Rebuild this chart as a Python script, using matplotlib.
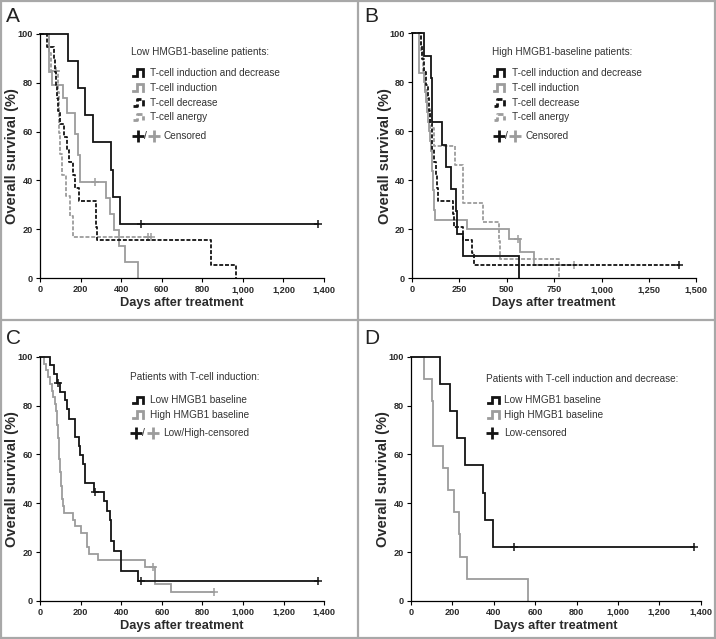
import matplotlib
matplotlib.use("Agg")
import matplotlib.pyplot as plt
from matplotlib.lines import Line2D
from matplotlib.ticker import FuncFormatter
import numpy as np

plt.rcParams['font.family'] = ['Liberation Sans', 'DejaVu Sans']

W, H = 716, 639

# ---- data (days of each drop, survival % after the drop, censored days) ----
# Low HMGB1 baseline, T-cell induction and decrease (panels A and D)
low_ind_dec_t = [138, 189, 221, 263, 350, 358, 396]
low_ind_dec_s = [88.9, 77.8, 66.7, 55.6, 44.4, 33.3, 22.2]
low_ind_dec_c = [497, 1368]

# Low HMGB1 baseline, T-cell induction
low_ind_t = [46, 60, 115, 131, 172, 189, 197, 325, 345, 365, 390, 420, 482]
low_ind_s = [84.2, 78.9, 73.7, 67.4, 58.9, 50.5, 39.3, 32.8, 26.2, 19.7, 13.1, 6.6, 0]
low_ind_c = [272]

# Low HMGB1 baseline, T-cell decrease
low_dec_t = [35, 68, 75, 80, 86, 90, 100, 120, 135, 145, 163, 172, 190, 275, 278, 280, 845, 965]
low_dec_s = [94.7, 89.5, 84.2, 78.9, 73.7, 68.4, 63.2, 57.9, 52.6, 47.4, 42.1, 36.8, 31.6,
             26.3, 21.1, 15.8, 5.3, 0]
low_dec_c = []

# Low HMGB1 baseline, T-cell anergy
low_anergy_t = [42, 52, 88, 92, 96, 100, 108, 130, 147, 165]
low_anergy_s = [92.3, 84.6, 76.1, 67.7, 59.2, 50.8, 42.3, 33.8, 25.4, 16.9]
low_anergy_c = [80, 530, 548]

# High HMGB1 baseline, T-cell induction and decrease (panels B and D)
high_ind_dec_t = [65, 100, 104, 107, 157, 180, 208, 230, 236, 270, 566]
high_ind_dec_s = [90.9, 81.8, 72.7, 63.6, 54.5, 45.5, 36.4, 27.3, 18.2, 9.1, 0]
high_ind_dec_c = []

# High HMGB1 baseline, T-cell induction
high_ind_t = [37, 63, 70, 75, 80, 85, 90, 95, 100, 106, 108, 110, 112, 115, 118, 122,
              288, 512, 570, 645]
high_ind_s = [84, 80, 76, 72, 68, 64, 60, 56, 52, 48, 44, 40, 36, 32, 28, 24,
              20, 16, 10.7, 5.3]
high_ind_c = [560, 853]

# High HMGB1 baseline, T-cell decrease
high_dec_t = [45, 55, 65, 75, 85, 92, 97, 103, 108, 118, 125, 130, 139, 218, 220, 271, 315, 329]
high_dec_s = [94.7, 89.5, 84.2, 78.9, 73.7, 68.4, 63.2, 57.9, 52.6, 47.4, 42.1, 36.8, 31.6,
              26.3, 21.1, 15.8, 10.5, 5.3]
high_dec_c = [1410]

# High HMGB1 baseline, T-cell anergy
high_anergy_t = [50, 60, 70, 80, 95, 118, 225, 268, 376, 459, 465, 776]
high_anergy_s = [92.3, 84.6, 76.9, 69.2, 61.5, 53.8, 46.2, 30.8, 23.1, 15.4, 7.7, 0]
high_anergy_c = []

# Panel C: all patients with T-cell induction
c_low_t = [50, 69, 83, 100, 124, 132, 145, 174, 190, 198, 212, 220, 265, 317, 331, 344,
           350, 364, 397, 483]
c_low_s = [96.4, 92.9, 89.3, 85.7, 82.1, 78.6, 74.5, 67.0, 63.3, 59.6, 55.9, 48.4, 44.7,
           40.9, 37.0, 33.2, 24.5, 20.4, 12.2, 8.2]
c_low_c = [90, 270, 497, 1368]

c_high_t = [20, 30, 40, 48, 58, 65, 72, 78, 82, 85, 88, 90, 92, 94, 96, 98, 100, 102, 104,
            106, 108, 112, 120, 162, 174, 202, 231, 240, 285, 515, 566, 643]
c_high_s = [97.2, 94.4, 91.7, 88.9, 86.1, 83.3, 80.6, 77.8, 75.0, 72.2, 69.4, 66.7, 63.9,
            61.1, 58.3, 55.6, 52.8, 50.0, 47.2, 44.4, 41.7, 38.9, 36.1, 33.3, 30.6, 27.8,
            22.2, 19.4, 16.7, 13.9, 6.9, 3.5]
c_high_c = [558, 858]

BLACK = '#141414'
GRAY = '#9c9c9c'
SOLID = '-'
DASHED = (0, (2.2, 1.0))
TXT = '#2a2a2a'

fig = plt.figure(figsize=(W / 100, H / 100), dpi=100)


def fx(px):
    return px / W


def fy(py):
    return 1 - py / H


def km(ax, t, s, cens, color, ls, lw=1.3):
    x = [0] + list(t)
    y = [100] + list(s)
    if cens and max(cens) > x[-1]:
        x.append(max(cens))
        y.append(y[-1])
    ax.plot(x, y, drawstyle='steps-post', color=color, ls=ls, lw=lw, clip_on=False,
            solid_joinstyle='miter')
    for c in cens:
        idx = np.searchsorted(t, c, side='right')
        lev = 100 if idx == 0 else s[idx - 1]
        ax.plot(c, lev, marker='+', ms=6, mew=1.1, color=color, clip_on=False)


def make_axes(l, r, t, b, xmax, step):
    ax = fig.add_axes([fx(l), fy(b), (r - l) / W, (b - t) / H])
    ax.set_xlim(0, xmax)
    ax.set_ylim(0, 100)
    ax.set_xticks(np.arange(0, xmax + 1, step))
    ax.set_yticks(range(0, 101, 20))
    ax.xaxis.set_major_formatter(FuncFormatter(lambda v, p: f'{int(v):,}'))
    for sp in ['top', 'right']:
        ax.spines[sp].set_visible(False)
    for sp in ['left', 'bottom']:
        ax.spines[sp].set_linewidth(0.9)
    ax.tick_params(direction='out', length=3, width=0.8, labelsize=6.6, pad=2)
    for lab in ax.get_xticklabels() + ax.get_yticklabels():
        lab.set_fontweight('bold')
        lab.set_color(TXT)
    ax.set_xlabel('Days after treatment', fontsize=9.2, fontweight='bold', labelpad=2,
                  color=TXT)
    ax.set_ylabel('Overall survival (%)', fontsize=10.5, fontweight='bold', color=TXT)
    ax.yaxis.set_label_coords(-20.5 / (r - l), 0.5)
    return ax


def icon(x, y, color, ls):
    xs = [x, x + 3.5, x + 3.5, x + 10, x + 10]
    ys = [y + 3, y + 3, y - 3.5, y - 3.5, y + 3]
    fig.add_artist(Line2D([fx(v) for v in xs], [fy(v) for v in ys], color=color, lw=2.0,
                          ls=ls, solid_joinstyle='miter', transform=fig.transFigure))


def legend_text(x, y, s, size=7.2):
    fig.text(fx(x), fy(y), s, fontsize=size, va='center', ha='left', color='#333333')


def plus(x, y, color):
    fig.add_artist(Line2D([fx(x)], [fy(y)], marker='+', ms=9, mew=2.0, color=color,
                          transform=fig.transFigure))


# ---- panel A ----
axA = make_axes(40, 324, 33.7, 278.3, 1400, 200)
km(axA, low_anergy_t, low_anergy_s, low_anergy_c, GRAY, DASHED)
km(axA, low_ind_t, low_ind_s, low_ind_c, GRAY, SOLID)
km(axA, low_dec_t, low_dec_s, low_dec_c, BLACK, DASHED)
km(axA, low_ind_dec_t, low_ind_dec_s, low_ind_dec_c, BLACK, SOLID)

# ---- panel B ----
axB = make_axes(412, 696.3, 33.3, 278.3, 1500, 250)
km(axB, high_anergy_t, high_anergy_s, high_anergy_c, GRAY, DASHED)
km(axB, high_ind_t, high_ind_s, high_ind_c, GRAY, SOLID)
km(axB, high_dec_t, high_dec_s, high_dec_c, BLACK, DASHED)
km(axB, high_ind_dec_t, high_ind_dec_s, high_ind_dec_c, BLACK, SOLID)

# ---- panel C ----
axC = make_axes(40, 324.3, 356.7, 601, 1400, 200)
km(axC, c_high_t, c_high_s, c_high_c, GRAY, SOLID)
km(axC, c_low_t, c_low_s, c_low_c, BLACK, SOLID)

# ---- panel D ----
axD = make_axes(411, 700.7, 356.7, 601, 1400, 200)
km(axD, high_ind_dec_t, high_ind_dec_s, high_ind_dec_c, GRAY, SOLID)
km(axD, low_ind_dec_t, low_ind_dec_s, low_ind_dec_c, BLACK, SOLID)

# ---- legends ----
entries4 = [('T-cell induction and decrease', BLACK, SOLID),
            ('T-cell induction', GRAY, SOLID),
            ('T-cell decrease', BLACK, DASHED),
            ('T-cell anergy', GRAY, DASHED)]
for x0, title in [(131, 'Low HMGB1-baseline patients:'),
                  (492, 'High HMGB1-baseline patients:')]:
    legend_text(x0, 51.7, title)
    for i, (lab, col, ls) in enumerate(entries4):
        yy = 72.7 + i * 14.9
        icon(x0 + 2, yy, col, ls)
        legend_text(x0 + 19.5, yy, lab)
    plus(x0 + 6.5, 136, BLACK)
    fig.text(fx(x0 + 13), fy(136), '/', fontsize=7.5, va='center', ha='left', color='#333333')
    plus(x0 + 23, 136, GRAY)
    legend_text(x0 + 33, 136, 'Censored')

legend_text(130, 376.7, 'Patients with T-cell induction:')
icon(133, 400, BLACK, SOLID)
legend_text(149.5, 400, 'Low HMGB1 baseline')
icon(133, 414.5, GRAY, SOLID)
legend_text(149.5, 414.5, 'High HMGB1 baseline')
plus(136, 432.7, BLACK)
fig.text(fx(142.5), fy(432.7), '/', fontsize=7.5, va='center', ha='left', color='#333333')
plus(153, 432.7, GRAY)
legend_text(163, 432.7, 'Low/High-censored')

legend_text(485.7, 379, 'Patients with T-cell induction and decrease:')
icon(488.5, 400, BLACK, SOLID)
legend_text(504, 400, 'Low HMGB1 baseline')
icon(488.5, 414.5, GRAY, SOLID)
legend_text(504, 414.5, 'High HMGB1 baseline')
plus(492, 432.7, BLACK)
legend_text(504, 432.7, 'Low-censored')

# ---- panel letters ----
for x, y, s in [(6, 16, 'A'), (364, 16, 'B'), (6, 338, 'C'), (364, 338, 'D')]:
    fig.text(fx(x), fy(y), s, fontsize=15, va='center', ha='left', color='#222222')

# ---- frame ----
fc = '#a8a8a8'
for xs, ys in [([1, 715], [1, 1]), ([1, 715], [638, 638]), ([1, 1], [1, 638]),
               ([715, 715], [1, 638]), ([1, 715], [320, 320]), ([358, 358], [1, 638])]:
    fig.add_artist(Line2D([fx(v) for v in xs], [fy(v) for v in ys], color=fc, lw=1.6,
                          transform=fig.transFigure))

fig.savefig('out.png', dpi=100)
